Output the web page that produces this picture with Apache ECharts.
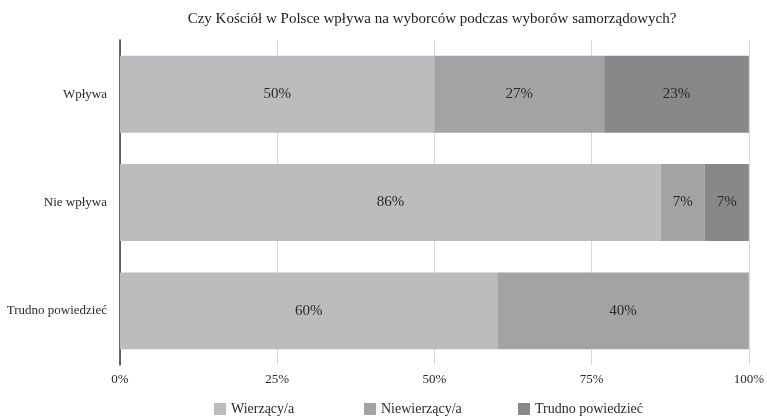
<!DOCTYPE html>
<html>
<head>
<meta charset="utf-8">
<script src="https://cdn.jsdelivr.net/npm/echarts@6/dist/echarts.min.js"></script>
<style>
  html, body { margin: 0; padding: 0; background: #fff; }
  #chart { width: 767px; height: 417px; }
</style>
</head>
<body>
<div id="chart"></div>
<script>
// dane
const categories = ['Wpływa', 'Nie wpływa', 'Trudno powiedzieć'];
const seriesNames = ['Wierzący/a', 'Niewierzący/a', 'Trudno powiedzieć'];
const wierzacy = [50, 86, 60];
const niewierzacy = [27, 7, 40];
const trudno = [23, 7, 0];
const seriesColors = ['#bcbcbf', '#a3a3a6', '#88888b'];
const legendLeft = [209, 359, 513];

const font = '"Liberation Serif", "DejaVu Serif", serif';
const values = [wierzacy, niewierzacy, trudno];

const chart = echarts.init(document.getElementById('chart'));

const series = values.map((v, i) => ({
  name: seriesNames[i],
  type: 'bar',
  stack: 'total',
  barCategoryGap: '29%',
  data: v,
  itemStyle: { color: seriesColors[i] },
  label: {
    show: true,
    position: 'inside',
    color: '#2a2a2a',
    fontFamily: font,
    fontSize: 15,
    formatter: p => p.value > 0 ? p.value + '%' : ''
  }
}));

const legends = seriesNames.map((n, i) => ({
  data: [n],
  left: legendLeft[i],
  top: 397,
  icon: 'rect',
  itemWidth: 12,
  itemHeight: 12,
  itemGap: 10,
  textStyle: { fontFamily: font, fontSize: 14, color: '#2a2a2a' }
}));

chart.setOption({
  animation: false,
  title: {
    text: 'Czy Kościół w Polsce wpływa na wyborców podczas wyborów samorządowych?',
    left: 427,
    textAlign: 'center',
    top: 7,
    textStyle: { fontFamily: font, fontSize: 15, fontWeight: 'normal', color: '#222' }
  },
  legend: legends,
  grid: { left: 120, right: 15, top: 40, bottom: 52, containLabel: false },
  xAxis: {
    type: 'value',
    min: 0,
    max: 100,
    interval: 25,
    axisLine: { show: false },
    axisTick: { show: false },
    splitLine: { show: true, lineStyle: { color: '#d8d8d8', width: 1 } },
    axisLabel: {
      formatter: '{value}%',
      margin: 8,
      fontFamily: font,
      fontSize: 13,
      color: '#2a2a2a'
    }
  },
  yAxis: {
    type: 'category',
    data: categories,
    inverse: true,
    axisLine: { show: true, lineStyle: { color: '#333', width: 1.5 } },
    axisTick: { show: false },
    axisLabel: { margin: 13, fontFamily: font, fontSize: 13, color: '#2a2a2a' }
  },
  series: series
});
</script>
</body>
</html>
